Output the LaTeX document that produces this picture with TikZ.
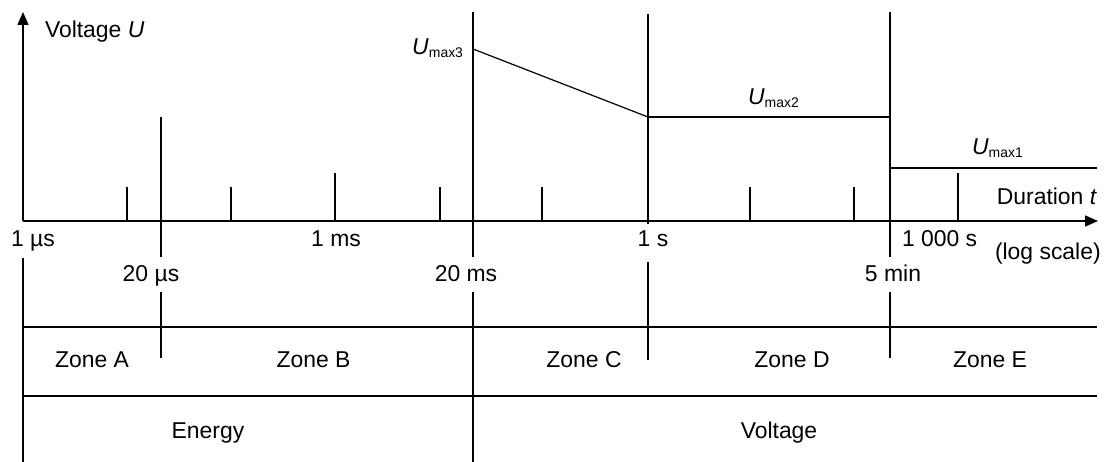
\documentclass[tikz,border=0pt]{standalone}
\usepackage{fontspec}
\setmainfont{Liberation Sans}
\usetikzlibrary{arrows.meta}
\begin{document}
\begin{tikzpicture}[x=1bp,y=-1bp,
  every node/.style={inner sep=0pt,outer sep=0pt,font=\fontsize{23}{27}\selectfont},
  ln/.style={line width=1.5bp,line cap=butt},
  ax/.style={ln,-{Triangle[length=13bp,width=11bp]}},
  lbl/.style={anchor=base}]
\newcommand{\Umx}[1]{\textit{U}\raisebox{-3bp}{\fontsize{14}{14}\selectfont max#1}}
\useasboundingbox (0,0) rectangle (1110,462);
% axes
\coordinate (O) at (23,221);
\coordinate (Ytop) at (23,12);
\coordinate (Xend) at (1098,221);
\draw[ax] (O) -- (Ytop);
\draw[ax] (O) -- (Xend);
% small ticks
\foreach \n/\x in {t1/127,t2/231,t3/440,t4/542,t5/750,t6/854}{
  \coordinate (\n a) at (\x,221); \coordinate (\n b) at (\x,187);
  \draw[ln] (\n a) -- (\n b);}
\foreach \n/\x in {tm/335,tk/958}{
  \coordinate (\n a) at (\x,221); \coordinate (\n b) at (\x,173);
  \draw[ln] (\n a) -- (\n b);}
% main verticals
\coordinate (us20t) at (161,117); \coordinate (us20b) at (161,257);
\coordinate (us20c) at (161,292); \coordinate (us20d) at (161,358);
\draw[ln] (us20t) -- (us20b); \draw[ln] (us20c) -- (us20d);
\coordinate (ms20t) at (473,12); \coordinate (ms20b) at (473,257);
\coordinate (ms20c) at (473,292); \coordinate (ms20d) at (473,462);
\draw[ln] (ms20t) -- (ms20b); \draw[ln] (ms20c) -- (ms20d);
\coordinate (s1t) at (648,14); \coordinate (s1b) at (648,224);
\coordinate (s1c) at (648,262); \coordinate (s1d) at (648,360);
\draw[ln] (s1t) -- (s1b); \draw[ln] (s1c) -- (s1d);
\coordinate (m5t) at (890,12); \coordinate (m5b) at (890,257);
\coordinate (m5c) at (890,292); \coordinate (m5d) at (890,358);
\draw[ln] (m5t) -- (m5b); \draw[ln] (m5c) -- (m5d);
\coordinate (Lc) at (23,258); \coordinate (Ld) at (23,462);
\draw[ln] (Lc) -- (Ld);
% voltage limits
\coordinate (u3) at (473,49); \coordinate (u2a) at (648,117);
\coordinate (u2b) at (890,117); \coordinate (u1a) at (890,168);
\coordinate (u1b) at (1097,168);
\draw[line width=1.2bp] (u3) -- (u2a);
\draw[ln] (u2a) -- (u2b);
\draw[ln] (u1a) -- (u1b);
% table lines
\coordinate (h1a) at (23,327); \coordinate (h1b) at (1097,327);
\coordinate (h2a) at (23,396); \coordinate (h2b) at (1097,396);
\draw[ln] (h1a) -- (h1b);
\draw[ln] (h2a) -- (h2b);
% labels
\node[anchor=base west] (lV) at (45,38) {Voltage \textit{U}};
\node[anchor=base east] (lU3) at (463,55) {\Umx{3}};
\node[anchor=base west] (lU2) at (748,105) {\Umx{2}};
\node[anchor=base west] (lU1) at (972,155) {\Umx{1}};
\node[anchor=base east] (lD) at (1097,205) {Duration \textit{t}};
\node[lbl] (l1us) at (33,247) {1 µs};
\node[lbl] (l1ms) at (336,247) {1 ms};
\node[lbl] (l1s) at (653,247) {1 s};
\node[anchor=base west] (l1000) at (902,247) {1 000 s};
\node[anchor=base west] (llog) at (995,260) {(log scale)};
\node[lbl] (l20us) at (151,282) {20 µs};
\node[lbl] (l20ms) at (466,282) {20 ms};
\node[lbl] (l5min) at (893,282) {5 min};
\node[lbl] (zA) at (92,368) {Zone A};
\node[lbl] (zB) at (313.5,368) {Zone B};
\node[lbl] (zC) at (584,368) {Zone C};
\node[lbl] (zD) at (792,368) {Zone D};
\node[lbl] (zE) at (990,368) {Zone E};
\node[lbl] (en) at (208,439) {Energy};
\node[lbl] (vo) at (779,439) {Voltage};
\end{tikzpicture}
\end{document}
